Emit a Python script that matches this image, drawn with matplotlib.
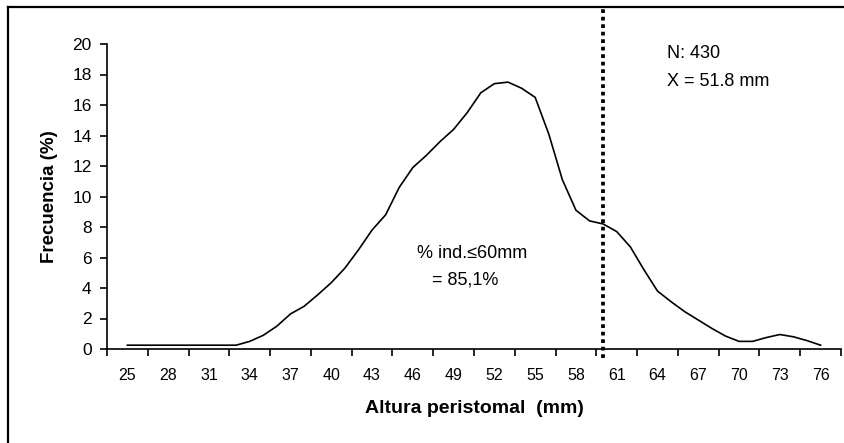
import matplotlib.pyplot as plt
from matplotlib.lines import Line2D

plt.rcParams['font.family'] = ['Liberation Sans', 'DejaVu Sans']

# ── datos ────────────────────────────────────────────────────────────────────
alturas = list(range(25, 77))  # mm
frecuencia = [
    0.25, 0.25, 0.25, 0.25, 0.25, 0.25, 0.25, 0.25, 0.25,   # 25-33
    0.5, 0.9, 1.5, 2.3, 2.8, 3.55, 4.35, 5.3, 6.5, 7.8,     # 34-43
    8.8, 10.6, 11.9, 12.7, 13.6, 14.4, 15.5, 16.8, 17.4,    # 44-52
    17.5, 17.1, 16.5, 14.1, 11.1, 9.1, 8.4, 8.2, 7.7,       # 53-61
    6.7, 5.2, 3.8, 3.1, 2.45, 1.9, 1.35, 0.85, 0.5,         # 62-70
    0.5, 0.75, 0.95, 0.8, 0.55, 0.25,                       # 71-76
]
etiquetas_x = list(range(25, 77, 3))
limite = 60
n_ind = 430
media = 51.8
pct_bajo = "85,1%"

fig = plt.figure(figsize=(8.45, 4.43), dpi=100)
ax = fig.add_axes([107 / 845, 1 - 349 / 443, (841 - 107) / 845, (349 - 44) / 443])

ax.plot(alturas, frecuencia, color="black", linewidth=1.2,
        solid_joinstyle="round")

# línea vertical punteada en 60 mm
ax.plot([limite, limite], [-0.6, 22.5], color="black", linewidth=2.7,
        linestyle=(0, (1, 1)), clip_on=False)

ax.set_xlim(23.5, 77.5)
ax.set_ylim(0, 20)

# marcas entre categorías, etiquetas centradas
ax.set_xticks([23.5 + 3 * k for k in range(19)])
ax.set_xticklabels([])
ax.set_xticks(etiquetas_x, minor=True)
ax.set_xticklabels([str(v) for v in etiquetas_x], minor=True, fontsize=11.5)
ax.tick_params(axis="x", which="major", direction="out", length=5, width=1.2)
ax.tick_params(axis="x", which="minor", length=0, pad=14)

ax.set_yticks(range(0, 21, 2))
ax.tick_params(axis="y", direction="out", length=5, width=1.2, labelsize=12.5, pad=6)

for s in ["top", "right"]:
    ax.spines[s].set_visible(False)
for s in ["left", "bottom"]:
    ax.spines[s].set_linewidth(1.2)

ax.set_ylabel("Frecuencia (%)", fontsize=13.5, fontweight="bold", labelpad=10)
ax.set_xlabel("Altura peristomal  (mm)", fontsize=14, fontweight="bold", labelpad=12)

ax.text(667 / 845, 1 - 53 / 443, f"N: {n_ind}", transform=fig.transFigure,
        fontsize=13, va="center", ha="left")
ax.text(667 / 845, 1 - 81 / 443, f"X = {media} mm", transform=fig.transFigure,
        fontsize=13, va="center", ha="left")
ax.text(417 / 845, 1 - 253 / 443, "% ind.≤60mm", transform=fig.transFigure,
        fontsize=13, va="center", ha="left")
ax.text(432 / 845, 1 - 280 / 443, f"= {pct_bajo}", transform=fig.transFigure,
        fontsize=13, va="center", ha="left")

# borde del gráfico (recortado)
fig.add_artist(Line2D([8 / 845, 8 / 845], [0, 1 - 7 / 443], color="black", linewidth=1.6))
fig.add_artist(Line2D([8 / 845, 1], [1 - 7 / 443, 1 - 7 / 443], color="black", linewidth=1.6))

fig.savefig("out.png", dpi=100)
